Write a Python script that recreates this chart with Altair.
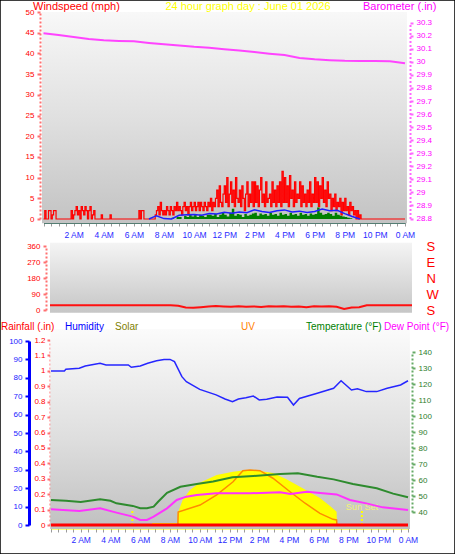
import altair as alt
import pandas as pd

W, H = 455, 554
FONT = "Liberation Sans"

# ---------------- data ----------------
# wind gust, mph, every 5 minutes from 0:00 to 24:00
GUST_5MIN = [
    0, 2, 0, 0, 2, 2, 0, 1, 2, 2, 0, 0,
    0, 0, 0, 0, 0, 0, 0, 0, 0, 0, 2, 0,
    1, 2, 3, 1, 2, 0, 3, 2, 1, 3, 2, 0,
    2, 3, 0, 1, 2, 0, 0, 0, 0, 0, 1, 0,
    0, 0, 0, 0, 0, 1, 0, 0, 0, 0, 0, 0,
    0, 0, 0, 0, 0, 0, 0, 0, 0, 0, 0, 0,
    0, 0, 0, 0, 2, 0, 2, 2, 0, 0, 0, 0,
    0, 0, 0, 0, 0, 1, 2, 3, 1, 4, 2, 1,
    2, 1, 3, 2, 1, 3, 2, 1, 3, 2, 4, 2,
    3, 2, 1, 3, 4, 2, 3, 1, 3, 4, 2, 3,
    4, 2, 3, 4, 2, 4, 3, 2, 4, 3, 2, 4,
    3, 5, 2, 4, 3, 5, 7, 3, 8, 4, 3, 6,
    8, 4, 10, 3, 6, 9, 4, 7, 3, 10, 5, 4,
    7, 3, 8, 5, 2, 6, 9, 3, 6, 4, 9, 3,
    9, 4, 8, 3, 7, 10, 4, 6, 3, 9, 4, 5,
    6, 3, 9, 4, 7, 3, 8, 4, 9, 3, 11.5, 4,
    10, 4, 8, 3, 10.5, 5, 7, 3, 9, 4, 6, 5,
    9, 3, 8, 4, 6, 3, 7, 4, 9, 3, 6, 4,
    10, 4, 9, 3, 8, 5, 10, 4, 7, 3, 9, 5,
    6, 2, 5, 3, 6, 2, 4, 3, 5, 1, 4, 2,
    5, 2, 3, 1, 4, 2, 3, 1, 2, 0, 2, 0,
    1, 0, 0, 0, 0, 0, 0, 0, 0, 0, 0, 0,
    0, 0, 0, 0, 0, 0, 0, 0, 0, 0, 0, 0,
    0, 0, 0, 0, 0, 0, 0, 0, 0, 0, 0, 0,
    0,
]
# wind speed, mph, every 10 minutes
SPEED_10MIN = [
    0, 0, 0, 0, 0, 0,
    0, 0, 0, 0, 0, 0,
    0, 0, 0, 0, 0, 0,
    0, 0, 0, 0, 0, 0,
    0, 0, 0, 0, 0, 0,
    0, 0, 0, 0, 0, 0,
    0, 0, 0, 0, 0, 0,
    0, 0, 0, 0, 0, 0,
    0, 0, 0, 0.3, 0, 0.5,
    0.5, 0, 0.8, 0.5, 1, 0.6,
    1, 0.5, 1, 0.8, 0.5, 1,
    1, 0.8, 1.2, 0.5, 1, 1.5,
    1, 0.6, 1.5, 2.5, 0.8, 1.2,
    1, 0.5, 1.2, 0.8, 1, 1.3,
    1.5, 0.8, 1.3, 1, 1.2, 0.8,
    1.5, 1, 1.2, 0.8, 1.5, 1,
    1.2, 0.8, 1.5, 1, 1.2, 0.8,
    1.5, 1, 1.2, 0.8, 1.3, 1,
    1.2, 2.8, 1.5, 1, 1.2, 1.5,
    1.2, 0.8, 1.5, 1, 0.8, 0.6,
    0.5, 0.3, 0.2, 0, 0, 0,
    0, 0, 0, 0, 0, 0,
    0, 0, 0, 0, 0, 0,
    0, 0, 0, 0, 0, 0,
    0,
]
# average wind speed, mph, every 30 minutes (None = not drawn, hidden at the base)
AVG_30MIN = [
    None, None, None, None, None, None, None, None, None, None, None, None, None,
    None, 0.0,
    0.8, 0.1, 0.0, 0.9, 1.0, 1.1, 0.9, 1.3, 1.2, 1.6, 1.4, 1.7, 1.5, 2.2,
    1.8, 1.6, 2.0, 2.2, 1.7, 1.9, 1.6, 1.8, 2.4, 2.0, 2.1, 1.3, 0.6, 0.0,
    None, None, None, None, None, None,
]
# barometer, inches, hourly
BARO_HOURLY = [30.22, 30.205, 30.19, 30.175, 30.165, 30.16, 30.157, 30.145,
               30.135, 30.125, 30.115, 30.108, 30.097, 30.087, 30.075, 30.063,
               30.052, 30.03, 30.02, 30.013, 30.008, 30.006, 30.006, 30.004, 29.99]
# wind direction, degrees, every 30 minutes
DIR_30MIN = [27, 27, 27, 27, 27, 27, 27, 27, 27, 27, 27, 27, 27, 27, 27, 27, 27,
             24, 14, 12, 16, 20, 22, 20, 18, 21, 18, 20, 17, 21, 19, 21, 18, 20,
             16, 21, 19, 21, 18, 6, 14, 15, 27,
             27, 27, 27, 27, 27, 27]

HUM_HOURS = [0, 0.9, 1.0, 1.9, 2.3, 3.3, 3.7, 5.2, 5.4, 6.0, 6.5, 7.1, 7.6, 8.0, 8.3,
             8.8, 9.1, 10.0, 11.1, 11.7, 12.2, 12.6, 13.1, 13.6, 14.0, 14.5, 15.2,
             15.9, 16.3, 16.7, 17.9, 19.0, 19.5, 20.2, 20.6, 21.2, 21.9, 22.6, 23.5, 24]
HUM = [83.7, 83.7, 84.6, 85.2, 86.4, 87.9, 87.0, 87.0, 85.7, 86.4, 87.9, 89.3, 90.0,
       90.0, 88.8, 80.6, 77.9, 73.7, 70.7, 68.5, 67.0, 68.5, 69.2, 70.1, 68.0, 68.3,
       69.5, 69.4, 65.2, 68.8, 71.6, 74.3, 78.4, 73.4, 74.0, 72.5, 72.5, 74.3, 76.1, 78.4]

TEMP_HOURS = [0, 1, 2, 3.3, 4, 4.4, 5.5, 6.0, 6.45, 6.9, 7.2, 7.8, 8.7, 9.8, 10.9,
              12.2, 13.6, 15.4, 16.6, 17.9, 19.0, 20.3, 21.9, 23, 24]
TEMP = [47.5, 47.0, 46.3, 48.0, 47.0, 45.4, 43.8, 42.3, 42.3, 43.3, 46.4, 52.0, 55.8,
        57.5, 59.0, 61.7, 62.5, 63.7, 64.2, 62.0, 60.4, 57.5, 54.8, 51.5, 49.2]

DEW_HOURS = [0, 1.9, 3.3, 4.4, 5.5, 6.0, 6.45, 6.9, 7.8, 8.45, 9.1, 9.8, 11.1, 13.4,
             15.4, 16.1, 17.2, 19.2, 20.1, 21.2, 22.3, 24]
DEW = [41.7, 40.6, 42.3, 39.6, 37.1, 35.0, 35.0, 37.1, 42.3, 47.5, 49.6, 50.6, 51.7,
       51.7, 52.3, 51.3, 52.7, 51.0, 47.5, 45.4, 42.9, 41.3]

SOLAR_HOURS = [0, 6.79, 6.8, 8.53, 8.55, 8.85, 9.34, 10.0, 11.14, 12.24, 13.16, 14.05,
               14.92, 15.8, 16.74, 18.08, 18.8, 19.2, 19.22, 19.97, 20.0, 24]
SOLAR = [0, 0, 11, 11, 71, 136, 190, 230, 272, 290, 299, 293, 283, 250, 208, 147, 100,
         72, 5, 5, 0, 0]

UV_HOURS = [0, 8.53, 8.55, 10.02, 11.14, 12.24, 12.9, 13.38, 14.05, 14.92, 16.07,
            17.08, 18.08, 18.96, 19.2, 19.22, 24]
UV = [0, 0, 0.85, 1.3, 1.96, 2.82, 3.54, 3.59, 3.54, 3.05, 2.17, 1.42, 0.76, 0.37,
      0.33, 0, 0]

RAIN_HOURS = [0, 24]
RAIN = [0.0, 0.0]

SUN_HOURS = [5.47, 20.9]
SUN_LABELS = ["", "Sun Set"]

WIND_TICKS = [0, 5, 10, 15, 20, 25, 30, 35, 40, 45, 50]
BARO_TICKS = [28.8, 28.9, 29.0, 29.1, 29.2, 29.3, 29.4, 29.5, 29.6, 29.7, 29.8, 29.9,
              30.0, 30.1, 30.2, 30.3]
DIR_TICKS = [0, 90, 180, 270, 360]
DIR_LABELS = ["S", "W", "N", "E", "S"]
HUM_TICKS = [0, 10, 20, 30, 40, 50, 60, 70, 80, 90, 100]
RAIN_TICKS = [0, 0.1, 0.2, 0.3, 0.4, 0.5, 0.6, 0.7, 0.8, 0.9, 1.0, 1.1, 1.2]
TEMP_TICKS = [40, 50, 60, 70, 80, 90, 100, 110, 120, 130, 140]
TIME_TICKS = [2, 4, 6, 8, 10, 12, 14, 16, 18, 20, 22, 24]
TIME_LABELS = ["2 AM", "4 AM", "6 AM", "8 AM", "10 AM", "12 PM", "2 PM", "4 PM",
               "6 PM", "8 PM", "10 PM", "0 AM"]
HALF_HOURS = [i / 2 for i in range(49)]

TOP_TEXTS = ["Windspeed (mph)", "24 hour graph day : June 01 2026", "Barometer (.in)"]
BOTTOM_TEXTS = ["Rainfall (.in)", "Humidity", "Solar", "UV", "Temperature (°F)",
                "Dew Point (°F)"]


# ---------------- helpers ----------------
def lookup_expr(vals, labels):
    expr = "''"
    for v, l in zip(reversed(vals), reversed(labels)):
        expr = f"datum.value == {v} ? '{l}' : ({expr})"
    return expr


def scale(domain, rng):
    return alt.Scale(domain=domain, range=rng, nice=False, zero=False)


def grad(stops):
    return alt.Gradient(gradient="linear", x1=0, x2=0, y1=0, y2=1,
                        stops=[alt.GradientStop(color=c, offset=o) for o, c in stops])


TOP_X = [43.5, 405]
MID_X = [50, 412]
BOT_X = [51, 408]

wind_s = scale([0, 50], [219, 12])
baro_s = scale([28.8, 30.3], [218.5, 22.7])
dir_s = scale([0, 360], [310, 246])
hum_s = scale([0, 100], [525, 341])
rain_s = scale([0, 1.2], [525, 340])
temp_s = scale([40, 140], [512, 352])
solar_s = scale([0, 1000], [525, 341])
uv_s = scale([0, 12], [525, 341])


def xenc(rng, axis=None, field="h"):
    return alt.X(f"{field}:Q", scale=scale([0, 24], rng), axis=axis)


def yaxis(orient, offset, values, color, dom_color, fmt=None, dashed=True,
          dom_width=2, tick_size=3, pad=3, label_expr=None, size=8, domain=True,
          ticks=True):
    kw = dict(orient=orient, offset=offset, values=values, title=None, grid=False,
              labelColor=color, labelFont=FONT, labelFontSize=size, labelPadding=pad,
              labelOverlap=False, labelBound=False, labelFlush=False,
              domain=domain, ticks=ticks, domainColor=dom_color,
              domainWidth=dom_width, tickColor=dom_color, tickWidth=2,
              tickSize=tick_size)
    if dashed:
        kw["domainDash"] = [2, 2]
    if fmt:
        kw["format"] = fmt
    if label_expr:
        kw["labelExpr"] = label_expr
    return alt.Axis(**kw)


def xaxis(offset, dom_color, pad, dom_width=3):
    return alt.Axis(orient="bottom", offset=offset, values=HALF_HOURS, title=None,
                    grid=False, labelExpr=lookup_expr(TIME_TICKS, TIME_LABELS),
                    labelColor="#2a2aff", labelFont=FONT, labelFontSize=8.5,
                    labelPadding=pad, labelOverlap=False, labelFlush=False,
                    labelBound=False, tickColor="#9a9a9a", tickSize=4, tickWidth=1,
                    domainColor=dom_color, domainWidth=dom_width)


def text_at(txt, x, y, color, align="left", size=11):
    return alt.Chart(pd.DataFrame({"t": [txt]})).mark_text(
        align=align, baseline="alphabetic", font=FONT, fontSize=size, color=color
    ).encode(x=alt.value(x), y=alt.value(y), text="t:N")


# ---------------- frames ----------------
gust_df = pd.DataFrame({"h": [i * 5 / 60 for i in range(len(GUST_5MIN))], "v": GUST_5MIN})
speed_df = pd.DataFrame({"h": [i * 10 / 60 for i in range(len(SPEED_10MIN))], "v": SPEED_10MIN})
avg_df = pd.DataFrame({"h": [i * 0.5 for i in range(len(AVG_30MIN))], "v": AVG_30MIN})
baro_df = pd.DataFrame({"h": list(range(len(BARO_HOURLY))), "v": BARO_HOURLY})
dir_df = pd.DataFrame({"h": [i * 0.5 for i in range(len(DIR_30MIN))], "v": DIR_30MIN})

# ---------------- top panel ----------------
top_bg = alt.Chart(pd.DataFrame({"h": [-0.1], "h2": [24.13], "v": [-1.0], "v2": [50.0]})).mark_rect(
    color=grad([(0, "#f8f8f8"), (0.5, "#e0e0e0"), (1, "#c3c3c3")])
).encode(x=xenc(TOP_X), x2="h2", y=alt.Y("v:Q", scale=wind_s, axis=None), y2="v2")

gust = alt.Chart(gust_df).mark_line(interpolate="step-after", color="#ff0000", strokeWidth=1.2).encode(
    x=xenc(TOP_X, xaxis(-(H - 222), "#2e6658", 4)),
    y=alt.Y("v:Q", scale=wind_s,
            axis=yaxis("left", -40, WIND_TICKS, "#ff0000", "#ff7070")))

speed = alt.Chart(speed_df).mark_area(interpolate="step-after", color="#008000").encode(
    x=xenc(TOP_X), y=alt.Y("v:Q", scale=wind_s, axis=None))

avg = alt.Chart(avg_df).mark_line(color="#1f1fff", strokeWidth=1.5).encode(
    x=xenc(TOP_X), y=alt.Y("v:Q", scale=wind_s, axis=None))

baro = alt.Chart(baro_df).mark_line(color="#ff44ff", strokeWidth=2).encode(
    x=xenc(TOP_X),
    y=alt.Y("v:Q", scale=baro_s,
            axis=yaxis("right", -45, BARO_TICKS, "#ff00ff", "#ff66ff", fmt=".1~f")))

# ---------------- middle panel ----------------
mid_bg = alt.Chart(pd.DataFrame({"h": [0.0], "h2": [24.0], "v": [-15.0], "v2": [378.0]})).mark_rect(
    color=grad([(0, "#f4f4f4"), (1, "#c6c6c6")])
).encode(x=xenc(MID_X), x2="h2",
         y=alt.Y("v:Q", scale=dir_s,
                 axis=yaxis("right", -41, DIR_TICKS, "#ff0000", "#ff0000", dashed=False,
                            pad=12, size=13, domain=False, ticks=False,
                            label_expr=lookup_expr(DIR_TICKS, DIR_LABELS))),
         y2="v2")

direction = alt.Chart(dir_df).mark_line(color="#ff1010", strokeWidth=2).encode(
    x=xenc(MID_X),
    y=alt.Y("v:Q", scale=dir_s,
            axis=yaxis("left", -46, DIR_TICKS, "#ff0000", "#ff7070")))

# ---------------- bottom panel ----------------
bot_bg = alt.Chart(pd.DataFrame({"h": [-0.05], "h2": [24.13], "v": [-2.2], "v2": [106.5]})).mark_rect(
    color=grad([(0, "#fbfbfb"), (0.55, "#dedede"), (1, "#c0c0c0")])
).encode(x=xenc(BOT_X, xaxis(-(H - 528), "#ffff00", 3, dom_width=2)), x2="h2",
         y=alt.Y("v:Q", scale=hum_s,
                 axis=yaxis("left", -29, HUM_TICKS, "#2020ff", "#0000ff", dashed=False,
                            dom_width=3, tick_size=4, pad=3)),
         y2="v2")

solar = alt.Chart(pd.DataFrame({"h": SOLAR_HOURS, "v": SOLAR})).mark_area(color="#ffff00").encode(
    x=xenc(BOT_X), y=alt.Y("v:Q", scale=solar_s, axis=None))

sun_df = pd.DataFrame({"h": SUN_HOURS, "lo": [0.0, 0.0], "hi": [0.1, 0.1], "t": SUN_LABELS})
sun_rules = alt.Chart(sun_df).mark_rule(color="#ffff00", strokeWidth=2, strokeDash=[2, 2]).encode(
    x=xenc(BOT_X), y=alt.Y("lo:Q", scale=rain_s, axis=None), y2="hi")
sun_text = alt.Chart(sun_df).mark_text(font=FONT, fontSize=9, color="#f2f27a", baseline="middle").encode(
    x=xenc(BOT_X), y=alt.Y("hi:Q", scale=scale([0, 1.2], [505 + 0.1 * 154.2, 340 + 0.1 * 154.2]), axis=None),
    text="t:N")

uv = alt.Chart(pd.DataFrame({"h": UV_HOURS, "v": UV})).mark_line(color="#ff8c00", strokeWidth=1.5).encode(
    x=xenc(BOT_X), y=alt.Y("v:Q", scale=uv_s, axis=None))

temp = alt.Chart(pd.DataFrame({"h": TEMP_HOURS, "v": TEMP})).mark_line(color="#2e8b2e", strokeWidth=2).encode(
    x=xenc(BOT_X),
    y=alt.Y("v:Q", scale=temp_s,
            axis=yaxis("right", -43, TEMP_TICKS, "#2e7d2e", "#66aa66")))

dew = alt.Chart(pd.DataFrame({"h": DEW_HOURS, "v": DEW})).mark_line(color="#ff33ff", strokeWidth=2).encode(
    x=xenc(BOT_X), y=alt.Y("v:Q", scale=temp_s, axis=None))

hum = alt.Chart(pd.DataFrame({"h": HUM_HOURS, "v": HUM})).mark_line(color="#2626ff", strokeWidth=1.5).encode(
    x=xenc(BOT_X), y=alt.Y("v:Q", scale=hum_s, axis=None))

rain = alt.Chart(pd.DataFrame({"h": RAIN_HOURS, "v": RAIN})).mark_line(color="#ff0000", strokeWidth=3).encode(
    x=xenc(BOT_X),
    y=alt.Y("v:Q", scale=rain_s,
            axis=yaxis("left", -50, RAIN_TICKS, "#ff0000", "#ff7070", fmt=".1~f", pad=2)))

# ---------------- header texts ----------------
texts = [
    text_at(TOP_TEXTS[0], 33, 9.5, "#ff0000"),
    text_at(TOP_TEXTS[1], 248, 9.5, "#ffff00", align="center"),
    text_at(TOP_TEXTS[2], 363, 9.5, "#ff00ff"),
    text_at(BOTTOM_TEXTS[0], 1, 330, "#ff0000", size=10),
    text_at(BOTTOM_TEXTS[1], 65, 330, "#0000ff", size=10),
    text_at(BOTTOM_TEXTS[2], 115, 330, "#808000", size=10),
    text_at(BOTTOM_TEXTS[3], 241, 330, "#ff8000", size=10),
    text_at(BOTTOM_TEXTS[4], 306, 330, "#008000", size=10),
    text_at(BOTTOM_TEXTS[5], 384, 330, "#ff00ff", size=10),
]

chart = alt.layer(
    top_bg, gust, speed, avg, baro,
    mid_bg, direction,
    bot_bg, solar, sun_rules, sun_text, uv, temp, dew, hum, rain,
    *texts,
).resolve_scale(x="independent", y="independent").properties(
    width=W, height=H, autosize=alt.AutoSizeParams(type="none"), padding=0
).configure(background="white").configure_view(stroke="black", strokeWidth=1.5)

chart.save("out.html", embed_options={"renderer": "svg", "actions": False})
